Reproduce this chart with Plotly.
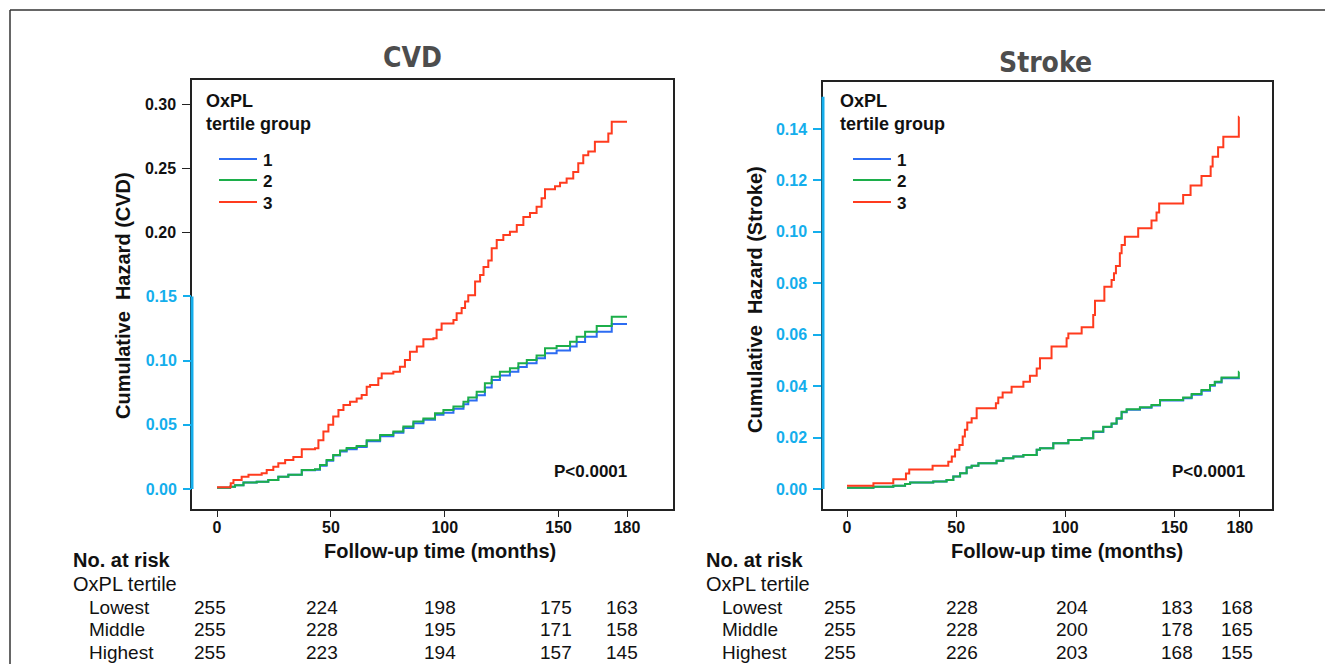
import plotly.graph_objects as go

W, H = 1325, 664

# ---------------- data ----------------
groups = ["1", "2", "3"]
colors = ["#2c6cf2", "#1cae4a", "#ff3b1e"]

# CVD cumulative hazard (step points: time in months, hazard)
cvd_t_1 = [0, 5.7, 7.9, 11.6, 17.4, 22.5, 26.9, 31.3, 37.2, 43, 45.2, 48.1, 51, 54, 56.9, 61.3, 65.7, 71.6, 77.4, 81.8,
           86.2, 90.6, 95.7, 99.4, 103.8, 108.2, 110.3, 114, 117.6, 120.6, 124.2, 128.6, 132.3, 136, 140.3, 144, 149.1,
           155, 157.9, 161.6, 166.7, 173.3, 180]
cvd_h_1 = [0.001, 0.0018, 0.003, 0.005, 0.0057, 0.007, 0.0096, 0.011, 0.0145, 0.015, 0.0182, 0.022, 0.026, 0.0292,
           0.031, 0.0328, 0.0372, 0.041, 0.0438, 0.0475, 0.0512, 0.054, 0.0578, 0.0595, 0.0625, 0.066, 0.069, 0.073,
           0.079, 0.085, 0.0885, 0.0914, 0.095, 0.098, 0.1018, 0.1057, 0.108, 0.111, 0.1145, 0.1187, 0.1226, 0.1286,
           0.1286]
cvd_t_2 = cvd_t_1
cvd_h_2 = [0.001, 0.0018, 0.003, 0.005, 0.0057, 0.007, 0.0096, 0.011, 0.0148, 0.0153, 0.0187, 0.0226, 0.0265, 0.030,
           0.032, 0.0335, 0.038, 0.042, 0.0447, 0.0486, 0.0525, 0.055, 0.059, 0.0616, 0.0642, 0.068, 0.0712, 0.0758,
           0.0823, 0.0875, 0.0914, 0.094, 0.098, 0.1005, 0.104, 0.1096, 0.1114, 0.1148, 0.1187, 0.1226, 0.127, 0.1343,
           0.1343]
cvd_t_3 = [0, 6, 7.2, 10.8, 13.8, 19.6, 21.8, 24.7, 26.9, 29.9, 33.5, 37.2, 43, 44.5, 46.7, 48.9, 51, 53.3, 55.5, 58.4,
           61.3, 63.5, 65.7, 67.2, 70.8, 72.3, 77.4, 80.3, 82.5, 84.7, 87.7, 90.6, 95, 96.4, 98.6, 103.8, 105.2, 107.4,
           108.9, 110.3, 113.3, 115.5, 117, 119.1, 120.6, 122.8, 125.7, 128.6, 131.6, 134.5, 137.4, 140.3, 142.5, 144,
           148.4, 150.6, 153.5, 156.4, 158.6, 160.8, 163, 165.9, 171.8, 173.3, 180]
cvd_h_3 = [0.0013, 0.0044, 0.007, 0.0096, 0.011, 0.0122, 0.0148, 0.0174, 0.020, 0.0226, 0.025, 0.031, 0.0317, 0.038,
           0.0447, 0.050, 0.0564, 0.0616, 0.0655, 0.068, 0.0706, 0.0732, 0.0797, 0.081, 0.0862, 0.090, 0.0914, 0.0953,
           0.1005, 0.107, 0.111, 0.1166, 0.1174, 0.124, 0.129, 0.1317, 0.137, 0.141, 0.146, 0.151, 0.1616, 0.1668,
           0.173, 0.178, 0.1875, 0.194, 0.198, 0.2005, 0.2057, 0.212, 0.215, 0.22, 0.2265, 0.2335, 0.236, 0.2387,
           0.242, 0.247, 0.2538, 0.260, 0.2629, 0.2706, 0.277, 0.2862, 0.2862]

# Stroke cumulative hazard
stk_t_2 = [0, 12.1, 21.2, 26.6, 28.9, 39.5, 45.6, 48.7, 51.8, 54.8, 57.1, 60.2, 68.5, 71.6, 76.2, 80.8, 86.9, 88.4,
           94.5, 101.4, 107.5, 112.8, 117.4, 121.2, 123.5, 125.8, 128.1, 134.2, 139.5, 143.4, 154, 157.9, 162.4, 166.3,
           168.5, 171.6, 179.5, 179.6]
stk_h_2 = [0.0005, 0.0009, 0.0012, 0.0019, 0.0025, 0.0029, 0.0035, 0.0048, 0.0061, 0.0083, 0.009, 0.010, 0.011,
           0.0119, 0.0126, 0.0132, 0.0152, 0.0158, 0.0178, 0.019, 0.0197, 0.0223, 0.0242, 0.0255, 0.0275, 0.030, 0.031,
           0.0318, 0.0327, 0.0346, 0.0356, 0.0369, 0.0385, 0.0404, 0.0417, 0.0434, 0.0456, 0.0456]
stk_t_1 = stk_t_2
stk_h_1 = [0.0005, 0.0009, 0.0012, 0.0019, 0.0025, 0.0029, 0.0035, 0.0048, 0.0061, 0.0083, 0.009, 0.010, 0.011,
           0.0119, 0.0126, 0.0132, 0.0152, 0.0158, 0.0178, 0.019, 0.0197, 0.0222, 0.0241, 0.0254, 0.0273, 0.0298, 0.0308,
           0.0316, 0.0325, 0.0344, 0.0353, 0.0366, 0.0382, 0.0401, 0.0414, 0.0431, 0.0433, 0.0433]
stk_t_3 = [0, 12.1, 21.2, 27, 28.5, 39.2, 46.4, 48, 49.5, 51.5, 53, 54, 55.1, 57.1, 59.4, 68.2, 69.3, 71.3, 75.4, 80.8,
           83.8, 86.9, 88.4, 93.7, 100.6, 101.4, 107.5, 112.8, 113.6, 117.9, 121.2, 122.3, 123.2, 125, 125.8, 127.3,
           133.4, 139.5, 141.8, 143, 154, 157.4, 162.4, 166.6, 167.5, 170, 172.4, 179.5, 179.6]
stk_h_3 = [0.0012, 0.0022, 0.0038, 0.006, 0.0076, 0.009, 0.0106, 0.0126, 0.0152, 0.0171, 0.0204, 0.023, 0.0258,
           0.0275, 0.0314, 0.0333, 0.0356, 0.0375, 0.0398, 0.0417, 0.044, 0.0469, 0.0508, 0.0554, 0.0586, 0.0605,
           0.0629, 0.0677, 0.0732, 0.0787, 0.0813, 0.0839, 0.0867, 0.0917, 0.0949, 0.0981, 0.1014, 0.1044, 0.1075,
           0.111, 0.1143, 0.118, 0.1217, 0.1254, 0.1292, 0.1329, 0.137, 0.1448, 0.1448]

# Numbers at risk
risk_times = [0, 50, 100, 150, 180]
risk_rows = ["Lowest", "Middle", "Highest"]
cvd_risk = [[255, 224, 198, 175, 163],
            [255, 228, 195, 171, 158],
            [255, 223, 194, 157, 145]]
stk_risk = [[255, 228, 204, 183, 168],
            [255, 228, 200, 178, 165],
            [255, 226, 203, 168, 155]]

x_ticks = [0, 50, 100, 150, 180]
cvd_ticks_black = [0.20, 0.25, 0.30]
cvd_ticks_cyan = [0.00, 0.05, 0.10, 0.15]
stk_ticks = [0.00, 0.02, 0.04, 0.06, 0.08, 0.10, 0.12, 0.14]

# ---------------- styling ----------------
CYAN = "#14aeec"
FONT = "Liberation Sans, Arial, Helvetica, sans-serif"
NARROW = "Liberation Sans Narrow, Arial Narrow, DejaVu Sans Condensed, sans-serif"


def px(x):
    return x / W


def py(y):
    return 1 - y / H


fig = go.Figure()

panels = [
    (groups, [cvd_t_1, cvd_t_2, cvd_t_3], [cvd_h_1, cvd_h_2, cvd_h_3], "x", "y"),
    (groups, [stk_t_1, stk_t_2, stk_t_3], [stk_h_1, stk_h_2, stk_h_3], "x2", "y2"),
]
for names, ts, hs, xa, ya in panels:
    for name, t, h, c in zip(names, ts, hs, colors):
        fig.add_trace(go.Scatter(x=t, y=h, mode="lines", line=dict(color=c, width=2, shape="hv"),
                                 name=name, showlegend=False, xaxis=xa, yaxis=ya, hoverinfo="skip"))
# invisible trace so the overlaid (cyan-labelled) y axis of the CVD panel is drawn
fig.add_trace(go.Scatter(x=[cvd_t_1[0]], y=[cvd_h_1[0]], mode="markers", marker=dict(opacity=0),
                         showlegend=False, xaxis="x", yaxis="y3", hoverinfo="skip"))

axis_common = dict(showline=True, mirror=True, linecolor="#222", linewidth=1.5, showgrid=False, zeroline=False,
                   ticks="outside", fixedrange=True)
tickf = dict(family=FONT, size=16, color="#111", weight="bold")
tickc = dict(family=FONT, size=16, color=CYAN, weight="bold")

fig.update_layout(
    width=W, height=H, margin=dict(l=0, r=0, t=0, b=0),
    paper_bgcolor="white", plot_bgcolor="white",
    xaxis=dict(domain=[px(192), px(673)], range=[-11, 200.2], anchor="y", tickvals=x_ticks,
               ticklen=6, tickcolor="#222", tickfont=tickf, ticklabelstandoff=-3, **axis_common),
    yaxis=dict(domain=[py(509), py(80)], range=[-0.0156, 0.3187], anchor="x", tickvals=cvd_ticks_black,
               ticktext=[f"{v:.2f}" for v in cvd_ticks_black], ticklen=8, tickcolor="#222", tickfont=tickf,
               ticklabelstandoff=3, **axis_common),
    yaxis3=dict(overlaying="y", anchor="x", side="left", range=[-0.0156, 0.3187], tickvals=cvd_ticks_cyan,
                ticktext=[f"{v:.2f}" for v in cvd_ticks_cyan], ticks="outside", ticklen=8, tickwidth=1.5,
                tickcolor=CYAN, tickfont=tickc,
                ticklabelstandoff=3, showline=False, showgrid=False, zeroline=False, fixedrange=True),
    xaxis2=dict(domain=[px(823), px(1272)], range=[-11, 194.7], anchor="y2", tickvals=x_ticks,
                ticklen=6, tickcolor="#222", tickfont=tickf, ticklabelstandoff=-3, **axis_common),
    yaxis2=dict(domain=[py(509), py(82)], range=[-0.0078, 0.1583], anchor="x2", tickvals=stk_ticks,
                ticktext=[f"{v:.2f}" for v in stk_ticks], ticklen=8, tickcolor=CYAN, tickwidth=1.5,
                tickfont=tickc, ticklabelstandoff=3, **axis_common),
)

shapes = []
ann = []


def note(text, x, y, font, xanchor="center", **kw):
    d = dict(text=text, x=x, y=y, xref=kw.pop("xref", "paper"), yref="paper", xanchor=xanchor,
             yanchor="middle", showarrow=False, font=font, borderpad=0)
    d.update(kw)
    ann.append(d)


# frame
shapes.append(dict(type="line", xref="paper", yref="paper", x0=px(10), x1=1, y0=py(10), y1=py(10),
                   line=dict(color="#333", width=1.5)))
shapes.append(dict(type="line", xref="paper", yref="paper", x0=px(10), x1=px(10), y0=py(10), y1=0,
                   line=dict(color="#333", width=1.5)))
# cyan axis segments
shapes.append(dict(type="line", xref="paper", yref="y", x0=px(192), x1=px(192), y0=0, y1=0.15,
                   line=dict(color=CYAN, width=3)))
shapes.append(dict(type="line", xref="paper", yref="y2", x0=px(823), x1=px(823), y0=0, y1=0.1526,
                   line=dict(color=CYAN, width=3)))

# titles
title_font = dict(family=NARROW, size=28, color="#4d4d4d")
note("<b>CVD</b>", px(413), py(58), title_font)
note("<b>Stroke</b>", px(1045), py(62), title_font)

bold20 = dict(family=FONT, size=20, color="#111")
reg19 = dict(family=FONT, size=19, color="#111")
# axis titles
note("<b>Cumulative  Hazard (CVD)</b>", px(123), py(296), bold20, textangle=-90)
note("<b>Cumulative  Hazard (Stroke)</b>", px(755), py(300), bold20, textangle=-90)
note("<b>Follow-up time (months)</b>", px(440), py(551), bold20)
note("<b>Follow-up time (months)</b>", px(1067), py(551), bold20)

# legends
leg_font = dict(family=FONT, size=18, color="#111")
for lx, nx in [(205, 219), (839, 853)]:
    note("<b>OxPL</b>", px(lx), py(101), leg_font, xanchor="left")
    note("<b>tertile group</b>", px(lx), py(124), leg_font, xanchor="left")
    for i, (g, c) in enumerate(zip(groups, colors)):
        yy = [159, 180, 202][i]
        shapes.append(dict(type="line", xref="paper", yref="paper", x0=px(nx), x1=px(nx + 38), y0=py(yy),
                           y1=py(yy), line=dict(color=c, width=2)))
        note(f"<b>{g}</b>", px(nx + 43), py(yy + 1), dict(family=FONT, size=17, color="#111"), xanchor="left")

# p-values
for xr in [628, 1246]:
    note("<b>P&lt;0.0001</b>", px(xr), py(471), dict(family=FONT, size=17, color="#111"), xanchor="right")

# risk tables
tables = [(72, "x", cvd_risk, [-7, -9, -5, -3, -5]), (705, "x2", stk_risk, [-7, 6, 7, 3, -3])]
for lx, xa, table, shifts in tables:
    note("<b>No. at risk</b>", px(lx), py(560), bold20, xanchor="left")
    note("OxPL tertile", px(lx), py(584), dict(family=FONT, size=20, color="#111"), xanchor="left")
    for r, (rowname, vals) in enumerate(zip(risk_rows, table)):
        yy = 607 + 22.5 * r
        note(rowname, px(lx + 16), py(yy), reg19, xanchor="left")
        for t, v, s in zip(risk_times, vals, shifts):
            note(str(v), t, py(yy), reg19, xref=xa, xshift=s)

fig.update_layout(shapes=shapes, annotations=ann)
fig.write_html("out.html")
